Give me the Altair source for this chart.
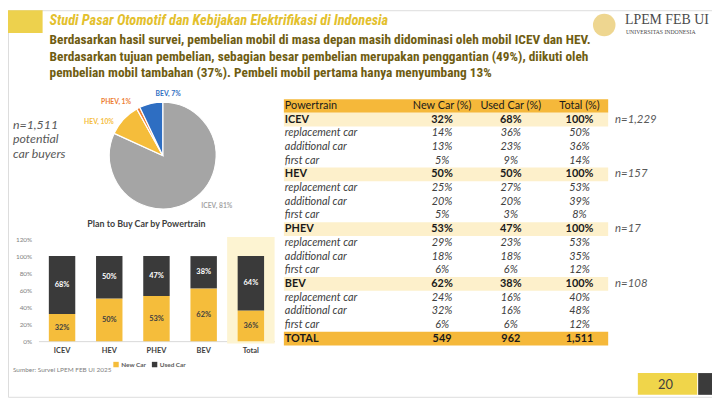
import altair as alt
import pandas as pd

# ---------------- data ----------------
title_text = "Studi Pasar Otomotif dan Kebijakan Elektrifikasi di Indonesia"
subtitle_lines = [
    "Berdasarkan hasil survei, pembelian mobil di masa depan masih didominasi oleh mobil ICEV dan HEV.",
    "Berdasarkan tujuan pembelian, sebagian besar pembelian merupakan penggantian (49%), diikuti oleh",
    "pembelian mobil tambahan (37%). Pembeli mobil pertama hanya menyumbang 13%",
]
buyers_lines = ["n=1,511", "potential", "car buyers"]

pie_names = ["ICEV", "HEV", "PHEV", "BEV"]
pie_shares = [81, 10, 1, 7]
pie_colors = ["#a5a5a5", "#f5bd3b", "#ed7d31", "#2e6ec2"]

bar_title = "Plan to Buy Car by Powertrain"
bar_categories = ["ICEV", "HEV", "PHEV", "BEV", "Total"]
bar_series = ["New Car", "Used Car"]
new_car_pct = [32, 50, 53, 62, 36]
used_car_pct = [68, 50, 47, 38, 64]
bar_ticks = [0, 0.2, 0.4, 0.6, 0.8, 1.0, 1.2]
highlight_category = "Total"

table_labels = ["Powertrain", "ICEV", "replacement car", "additional car", "first car",
                "HEV", "replacement car", "additional car", "first car",
                "PHEV", "replacement car", "additional car", "first car",
                "BEV", "replacement car", "additional car", "first car", "TOTAL"]
table_kind = ["header", "group", "sub", "sub", "sub", "group", "sub", "sub", "sub",
              "group", "sub", "sub", "sub", "group", "sub", "sub", "sub", "total"]
table_columns = ["New Car (%)", "Used Car (%)", "Total (%)"]
col_new = ["New Car (%)", "32%", "14%", "13%", "5%", "50%", "25%", "20%", "5%",
           "53%", "29%", "18%", "6%", "62%", "24%", "32%", "6%", "549"]
col_used = ["Used Car (%)", "68%", "36%", "23%", "9%", "50%", "27%", "20%", "3%",
            "47%", "23%", "18%", "6%", "38%", "16%", "16%", "6%", "962"]
col_total = ["Total (%)", "100%", "50%", "36%", "14%", "100%", "53%", "39%", "8%",
             "100%", "53%", "35%", "12%", "100%", "40%", "48%", "12%", "1,511"]
n_groups = ["ICEV", "HEV", "PHEV", "BEV"]
n_labels = ["n=1,229", "n=157", "n=17", "n=108"]

source_text = "Sumber: Survei LPEM FEB UI 2025"
logo_main = "LPEM FEB UI"
logo_sub = "UNIVERSITAS INDONESIA"
page_number = "20"

# ---------------- layout helpers ----------------
M = 8            # page margin
W, H = 720 - M, 399 - M


def X(v):
    return v - M


def Y(v):
    return v - M


NARROW = "Liberation Sans Narrow, Arial Narrow, Roboto Condensed, Liberation Sans, sans-serif"
BODY = "Lato, Liberation Sans, sans-serif"
SERIF = "Liberation Serif, DejaVu Serif, serif"

one = pd.DataFrame({"k": [0]})
layers = []

# header block
layers.append(alt.Chart(one).mark_rect(color="#edd14d").encode(
    x=alt.value(0), x2=alt.value(X(43)), y=alt.value(Y(8)), y2=alt.value(Y(31))))

# title
layers.append(alt.Chart(pd.DataFrame({"t": [title_text]})).mark_text(
    align="left", baseline="middle", font=NARROW, fontSize=14.5, fontWeight="bold",
    fontStyle="italic", color="#e3c02c").encode(
    x=alt.value(X(50)), y=alt.value(Y(19)), text="t:N"))

# subtitle lines
sub_df = pd.DataFrame({"i": range(len(subtitle_lines)), "t": subtitle_lines})
layers.append(alt.Chart(sub_df).mark_text(
    align="left", baseline="middle", font=NARROW, fontSize=13.5, fontWeight="bold",
    color="#6f5d12").encode(
    x=alt.value(X(50)),
    y=alt.Y("i:O", scale=alt.Scale(type="point", range=[Y(38.5), Y(71.5)], padding=0), axis=None),
    text="t:N"))

# logo
layers.append(alt.Chart(one).mark_point(shape="circle", filled=True, size=520,
                                        color="#ebcf7c", opacity=0.85).encode(
    x=alt.value(X(611)), y=alt.value(Y(23))))
layers.append(alt.Chart(pd.DataFrame({"t": [logo_main]})).mark_text(
    align="left", baseline="middle", font=SERIF, fontSize=14, color="#4a4a4a").encode(
    x=alt.value(X(632)), y=alt.value(Y(18)), text="t:N"))
layers.append(alt.Chart(pd.DataFrame({"t": [logo_sub]})).mark_text(
    align="left", baseline="middle", font=SERIF, fontSize=5.8, color="#4a4a4a").encode(
    x=alt.value(X(633)), y=alt.value(Y(30)), text="t:N"))

# n=1,511 potential car buyers
buy_df = pd.DataFrame({"i": range(len(buyers_lines)), "t": buyers_lines})
layers.append(alt.Chart(buy_df).mark_text(
    align="left", baseline="middle", font=BODY, fontSize=12.5, fontStyle="italic",
    color="#595959").encode(
    x=alt.value(X(13)),
    y=alt.Y("i:O", scale=alt.Scale(type="point", range=[Y(124), Y(153)], padding=0), axis=None),
    text="t:N"))

# ---------------- pie ----------------
pie_df = pd.DataFrame({"name": pie_names, "share": pie_shares, "ord": range(len(pie_names))})
pie_total = sum(pie_shares)
PCX, PCY = X(164.5), Y(155)
pie_color = alt.Color("name:N", scale=alt.Scale(domain=pie_names, range=pie_colors), legend=None)
arc = alt.Chart(pie_df).mark_arc(outerRadius=54, stroke="white", strokeWidth=1.2).encode(
    theta=alt.Theta("share:Q", stack=True, scale=alt.Scale(domain=[0, pie_total])),
    order=alt.Order("ord:Q", sort="ascending"),
    color=pie_color,
    x=alt.value(PCX), y=alt.value(PCY))

label_base = alt.Chart(pie_df).transform_window(
    cum="sum(share)", sort=[alt.SortField("ord", order="ascending")]
).transform_calculate(
    mid="datum.cum - datum.share / 2",
    lab="datum.name + ', ' + datum.share + '%'")
label_tweaks = {"ICEV": (19, -4), "HEV": (-16, 11), "PHEV": (-17, 5), "BEV": (20, 2)}
pie_layers = [arc]
for nm in pie_names:
    dx, dy = label_tweaks[nm]
    pie_layers.append(label_base.transform_filter(alt.datum.name == nm).mark_text(
        radius=66, dx=dx, dy=dy, font=BODY, fontSize=6.8, fontWeight="bold").encode(
        theta=alt.Theta("mid:Q", stack=None, scale=alt.Scale(domain=[0, pie_total])),
        color=pie_color, text="lab:N",
        x=alt.value(PCX), y=alt.value(PCY)))
layers.append(alt.layer(*pie_layers))

# ---------------- bar chart ----------------
layers.append(alt.Chart(pd.DataFrame({"t": [bar_title]})).mark_text(
    align="center", baseline="middle", font=BODY, fontSize=9, fontWeight="bold",
    color="#404040").encode(x=alt.value(X(148)), y=alt.value(Y(224.5)), text="t:N"))

rows = []
for c, nv, uv in zip(bar_categories, new_car_pct, used_car_pct):
    rows.append({"cat": c, "series": bar_series[0], "pct": nv, "sord": 0})
    rows.append({"cat": c, "series": bar_series[1], "pct": uv, "sord": 1})
bar_df = pd.DataFrame(rows)

bbase = alt.Chart(bar_df).transform_calculate(frac="datum.pct / 100").transform_stack(
    stack="frac", groupby=["cat"], as_=["y0", "y1"],
    sort=[alt.SortField("sord", order="ascending")]
).transform_calculate(mid="(datum.y0 + datum.y1) / 2")

xscale = alt.Scale(domain=bar_categories, range=[X(38.8), X(277.5)], paddingInner=0.44, paddingOuter=0.22)
yscale = alt.Scale(domain=[0, 1.2], range=[Y(342.7), Y(239.5)])
x_axis = alt.Axis(orient="bottom", offset=Y(342.7) - H, title=None, ticks=False,
                  domainColor="#d9d9d9", labelFont=BODY, labelFontSize=7.5,
                  labelFontWeight="bold", labelColor="#404040", labelPadding=5, labelAngle=0)
y_axis = alt.Axis(orient="left", offset=-X(36), title=None, ticks=False, domain=False,
                  grid=False, values=bar_ticks, format=".0%", labelFont=BODY,
                  labelFontSize=6.5, labelColor="#7f7f7f", labelPadding=4)

xenc = alt.X("cat:N", scale=xscale, axis=x_axis, sort=bar_categories)

highlight = bbase.transform_filter(
    (alt.datum.cat == highlight_category) & (alt.datum.sord == 0)
).mark_bar(width=48, color="#fdf4d2").encode(
    x=xenc, y=alt.Y(datum=1.225, scale=yscale, axis=y_axis), y2=alt.datum(-0.027))

bars = bbase.mark_bar().encode(
    x=xenc, y=alt.Y("y0:Q", scale=yscale, axis=y_axis), y2="y1:Q",
    color=alt.Color("series:N", scale=alt.Scale(domain=bar_series, range=["#f5bd3b", "#3a3a3a"]),
                    legend=alt.Legend(orient="none", legendX=X(114), legendY=Y(363),
                                      direction="horizontal", title=None, symbolType="square",
                                      symbolSize=30, symbolStrokeWidth=0, labelFont=BODY,
                                      labelFontSize=6.5, labelFontWeight="bold",
                                      labelColor="#595959", columnPadding=5, labelOffset=2)),
    order=alt.Order("sord:Q"))

bar_labels = bbase.mark_text(font=BODY, fontSize=7.5, fontWeight="bold").encode(
    x=xenc,
    y=alt.Y("mid:Q", scale=yscale, axis=y_axis),
    text=alt.Text("frac:Q", format=".0%"),
    color=alt.condition(alt.datum.sord == 1, alt.value("#ffffff"), alt.value("#404040")))

layers.append(alt.layer(highlight, bars, bar_labels))

layers.append(alt.Chart(pd.DataFrame({"t": [source_text]})).mark_text(
    align="left", baseline="middle", font=BODY, fontSize=6.5, color="#7f7f7f").encode(
    x=alt.value(X(13)), y=alt.value(Y(372)), text="t:N"))

# ---------------- table ----------------
tab_df = pd.DataFrame({"row": range(len(table_labels)), "label": table_labels, "kind": table_kind,
                       table_columns[0]: col_new, table_columns[1]: col_used,
                       table_columns[2]: col_total})
yrow = alt.Y("row:O", scale=alt.Scale(domain=list(range(len(table_labels))),
                                      range=[Y(98), Y(347.1)], paddingInner=0, paddingOuter=0),
             axis=None)
xcol = alt.X("col:N", scale=alt.Scale(type="point", domain=table_columns,
                                      range=[X(447), X(586)], padding=0), axis=None)

fills = alt.Chart(tab_df).transform_filter(alt.datum.kind != "sub").mark_rect().encode(
    y=yrow, x=alt.value(X(287)), x2=alt.value(X(615)),
    color=alt.Color("kind:N", scale=alt.Scale(domain=["header", "group", "total"],
                                              range=["#f5b83a", "#fdf0cb", "#f5b83a"]),
                    legend=None))
tab_layers = [fills]
styles = {
    "header": dict(fontWeight="normal", fontStyle="normal", color="#1a1a1a"),
    "group": dict(fontWeight="bold", fontStyle="normal", color="#1a1a1a"),
    "sub": dict(fontWeight="normal", fontStyle="italic", color="#404040"),
    "total": dict(fontWeight="bold", fontStyle="normal", color="#1a1a1a"),
}
for kind, st in styles.items():
    tab_layers.append(alt.Chart(tab_df).transform_filter(alt.datum.kind == kind).mark_text(
        align="left", baseline="middle", font=BODY, fontSize=11, **st).encode(
        y=yrow, x=alt.value(X(288)), text="label:N"))
    tab_layers.append(alt.Chart(tab_df).transform_filter(alt.datum.kind == kind).transform_fold(
        table_columns, as_=["col", "val"]).mark_text(
        align="center", baseline="middle", font=BODY, fontSize=11, **st).encode(
        y=yrow, x=xcol, text="val:N"))

n_df = pd.DataFrame({"label": n_groups, "n": n_labels})
tab_layers.append(alt.Chart(n_df).transform_lookup(
    lookup="label", from_=alt.LookupData(tab_df[tab_df.kind == "group"], "label", ["row"])
).mark_text(align="left", baseline="middle", font=BODY, fontSize=11.5, fontStyle="italic",
            color="#595959").encode(y=yrow, x=alt.value(X(622)), text="n:N"))
layers.append(alt.layer(*tab_layers))

# ---------------- page number ----------------
layers.append(alt.Chart(one).mark_rect(color="#f0d54a").encode(
    x=alt.value(X(645)), x2=alt.value(X(705)), y=alt.value(Y(375)), y2=alt.value(Y(397))))
layers.append(alt.Chart(one).mark_rect(color="#3b3b3b").encode(
    x=alt.value(X(706)), x2=alt.value(W), y=alt.value(Y(375)), y2=alt.value(Y(397))))
layers.append(alt.Chart(pd.DataFrame({"t": [page_number]})).mark_text(
    align="center", baseline="middle", font=BODY, fontSize=13, color="#404040").encode(
    x=alt.value(X(673)), y=alt.value(Y(387)), text="t:N"))

chart = alt.layer(*layers).resolve_scale(
    x="independent", y="independent", color="independent", theta="independent"
).properties(
    width=W, height=H, padding=0, autosize=alt.AutoSizeParams(type="none")
).configure_view(stroke=None).configure(background="white")

chart.save("out.html", embed_options={"renderer": "svg", "actions": False})
